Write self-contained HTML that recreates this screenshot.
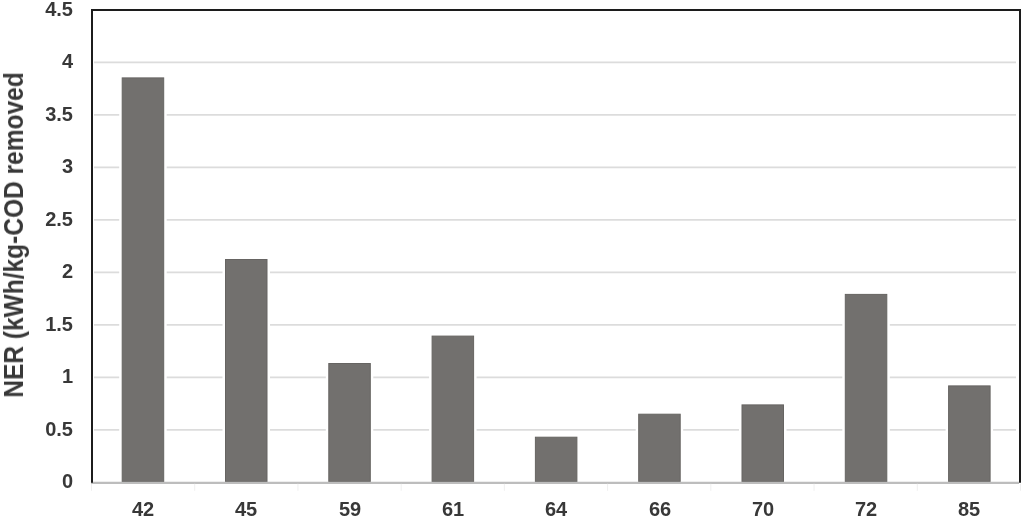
<!DOCTYPE html><html><head><meta charset="utf-8"><style>
html,body{margin:0;padding:0;background:#fff;}
body{width:1024px;height:518px;position:relative;overflow:hidden;font-family:"Liberation Sans",sans-serif;font-weight:bold;}
svg{position:absolute;left:0;top:0;}
.yl{position:absolute;will-change:transform;right:951.5px;width:60px;text-align:right;font-size:20px;line-height:20px;color:#383838;}
.xl{position:absolute;will-change:transform;width:100px;text-align:center;font-size:20px;line-height:20px;color:#383838;}
</style></head><body>

<svg width="1024" height="518" viewBox="0 0 1024 518">
<line x1="94" y1="429.90" x2="1016" y2="429.90" stroke="#dcdcdc" stroke-width="1.6"/>
<line x1="94" y1="377.40" x2="1016" y2="377.40" stroke="#dcdcdc" stroke-width="1.6"/>
<line x1="94" y1="324.90" x2="1016" y2="324.90" stroke="#dcdcdc" stroke-width="1.6"/>
<line x1="94" y1="272.40" x2="1016" y2="272.40" stroke="#dcdcdc" stroke-width="1.6"/>
<line x1="94" y1="219.90" x2="1016" y2="219.90" stroke="#dcdcdc" stroke-width="1.6"/>
<line x1="94" y1="167.40" x2="1016" y2="167.40" stroke="#dcdcdc" stroke-width="1.6"/>
<line x1="94" y1="114.90" x2="1016" y2="114.90" stroke="#dcdcdc" stroke-width="1.6"/>
<line x1="94" y1="62.40" x2="1016" y2="62.40" stroke="#dcdcdc" stroke-width="1.6"/>
<rect x="121.20" y="76.90" width="43.50" height="405.60" fill="#fff" stroke="#fff" stroke-width="4"/>
<rect x="122.20" y="77.90" width="41.50" height="403.60" fill="#72706e" stroke="#666462" stroke-width="1"/>
<rect x="224.50" y="258.50" width="43.50" height="224.00" fill="#fff" stroke="#fff" stroke-width="4"/>
<rect x="225.50" y="259.50" width="41.50" height="222.00" fill="#72706e" stroke="#666462" stroke-width="1"/>
<rect x="327.80" y="362.50" width="43.50" height="120.00" fill="#fff" stroke="#fff" stroke-width="4"/>
<rect x="328.80" y="363.50" width="41.50" height="118.00" fill="#72706e" stroke="#666462" stroke-width="1"/>
<rect x="431.10" y="335.10" width="43.50" height="147.40" fill="#fff" stroke="#fff" stroke-width="4"/>
<rect x="432.10" y="336.10" width="41.50" height="145.40" fill="#72706e" stroke="#666462" stroke-width="1"/>
<rect x="534.40" y="436.20" width="43.50" height="46.30" fill="#fff" stroke="#fff" stroke-width="4"/>
<rect x="535.40" y="437.20" width="41.50" height="44.30" fill="#72706e" stroke="#666462" stroke-width="1"/>
<rect x="637.70" y="413.20" width="43.50" height="69.30" fill="#fff" stroke="#fff" stroke-width="4"/>
<rect x="638.70" y="414.20" width="41.50" height="67.30" fill="#72706e" stroke="#666462" stroke-width="1"/>
<rect x="741.00" y="403.90" width="43.50" height="78.60" fill="#fff" stroke="#fff" stroke-width="4"/>
<rect x="742.00" y="404.90" width="41.50" height="76.60" fill="#72706e" stroke="#666462" stroke-width="1"/>
<rect x="844.30" y="293.40" width="43.50" height="189.10" fill="#fff" stroke="#fff" stroke-width="4"/>
<rect x="845.30" y="294.40" width="41.50" height="187.10" fill="#72706e" stroke="#666462" stroke-width="1"/>
<rect x="947.60" y="384.90" width="43.50" height="97.60" fill="#fff" stroke="#fff" stroke-width="4"/>
<rect x="948.60" y="385.90" width="41.50" height="95.60" fill="#72706e" stroke="#666462" stroke-width="1"/>
<line x1="91" y1="482.80" x2="1019" y2="482.80" stroke="#bdbdbd" stroke-width="2.2"/>
<line x1="91.50" y1="483.80" x2="91.50" y2="490.80" stroke="#efefef" stroke-width="1"/>
<line x1="194.72" y1="483.80" x2="194.72" y2="490.80" stroke="#efefef" stroke-width="1"/>
<line x1="297.94" y1="483.80" x2="297.94" y2="490.80" stroke="#efefef" stroke-width="1"/>
<line x1="401.17" y1="483.80" x2="401.17" y2="490.80" stroke="#efefef" stroke-width="1"/>
<line x1="504.39" y1="483.80" x2="504.39" y2="490.80" stroke="#efefef" stroke-width="1"/>
<line x1="607.61" y1="483.80" x2="607.61" y2="490.80" stroke="#efefef" stroke-width="1"/>
<line x1="710.83" y1="483.80" x2="710.83" y2="490.80" stroke="#efefef" stroke-width="1"/>
<line x1="814.06" y1="483.80" x2="814.06" y2="490.80" stroke="#efefef" stroke-width="1"/>
<line x1="917.28" y1="483.80" x2="917.28" y2="490.80" stroke="#efefef" stroke-width="1"/>
<line x1="1020.50" y1="483.80" x2="1020.50" y2="490.80" stroke="#efefef" stroke-width="1"/>
<path d="M92 482.80 V10 H1020 V482.80" fill="none" stroke="#1c1c1c" stroke-width="2"/>
</svg>
<div class="yl" style="top:471.0px">0</div>
<div class="yl" style="top:418.5px">0.5</div>
<div class="yl" style="top:366.0px">1</div>
<div class="yl" style="top:313.5px">1.5</div>
<div class="yl" style="top:261.0px">2</div>
<div class="yl" style="top:208.5px">2.5</div>
<div class="yl" style="top:156.0px">3</div>
<div class="yl" style="top:103.5px">3.5</div>
<div class="yl" style="top:51.0px">4</div>
<div class="yl" style="top:-1.5px">4.5</div>
<div class="xl" style="left:92.9px;top:499px">42</div>
<div class="xl" style="left:196.2px;top:499px">45</div>
<div class="xl" style="left:299.6px;top:499px">59</div>
<div class="xl" style="left:402.8px;top:499px">61</div>
<div class="xl" style="left:506.1px;top:499px">64</div>
<div class="xl" style="left:609.5px;top:499px">66</div>
<div class="xl" style="left:712.8px;top:499px">70</div>
<div class="xl" style="left:816.1px;top:499px">72</div>
<div class="xl" style="left:919.4px;top:499px">85</div>
<div style="position:absolute;left:14px;top:235px;width:0;height:0"><div style="position:absolute;left:0;top:0;transform:translate(-50%,-50%) rotate(-90deg) scaleX(0.875);white-space:nowrap;font-size:28px;line-height:1;color:#383838">NER (kWh/kg-COD removed</div></div>
</body></html>
